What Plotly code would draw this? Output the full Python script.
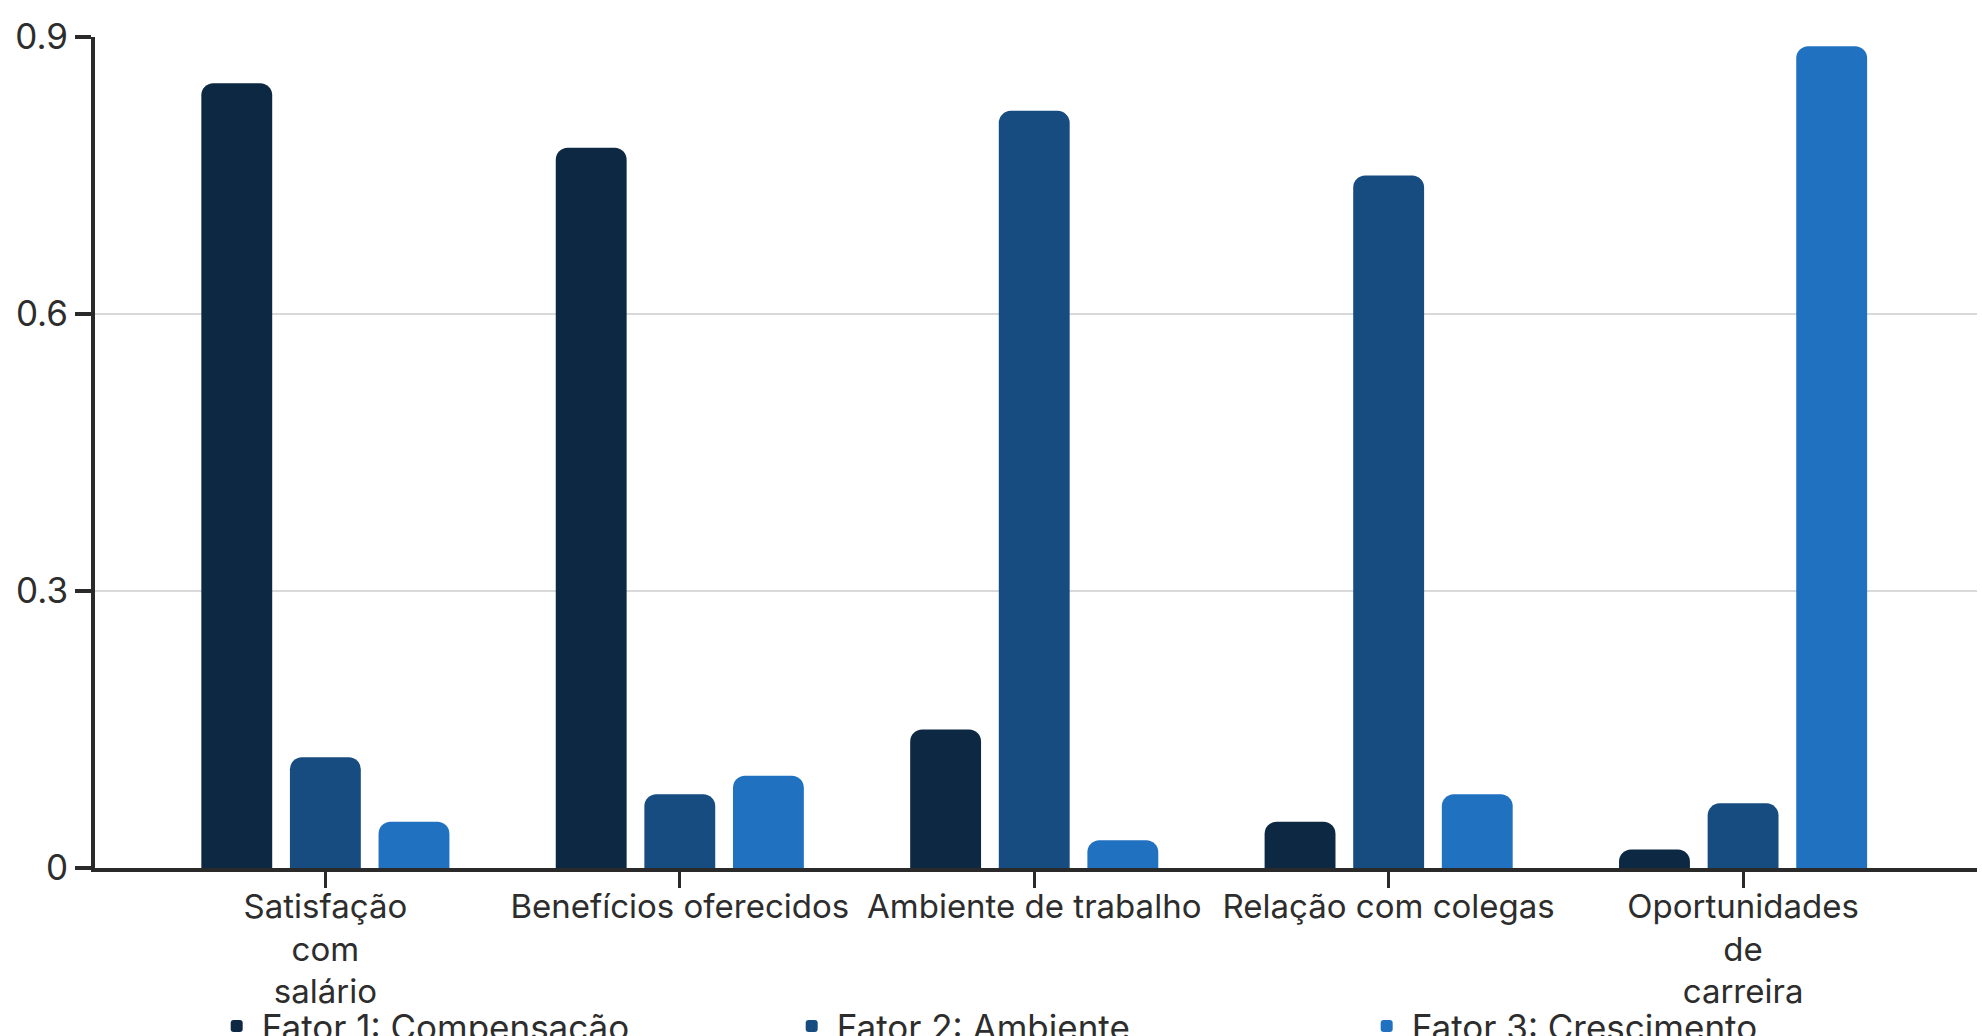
import plotly.graph_objects as go

categories = [
    "Satisfação<br>com<br>salário",
    "Benefícios oferecidos",
    "Ambiente de trabalho",
    "Relação com colegas",
    "Oportunidades<br>de<br>carreira",
]
fator1 = [0.85, 0.78, 0.15, 0.05, 0.02]
fator2 = [0.12, 0.08, 0.82, 0.75, 0.07]
fator3 = [0.05, 0.10, 0.03, 0.08, 0.89]
series_names = ["Fator 1: Compensação", "Fator 2: Ambiente", "Fator 3: Crescimento"]
colors = ["#0D2842", "#174C80", "#2171C1"]
y_ticks = [0, 0.3, 0.6, 0.9]

FONT = "Inter, Roboto, sans-serif"
TXT = "#2d2d2d"
FS = 35

fig = go.Figure()
for name, vals, col in zip(series_names, [fator1, fator2, fator3], colors):
    fig.add_trace(go.Bar(
        x=categories, y=vals, name=name,
        marker=dict(color=col, line=dict(width=0)),
        hoverinfo="x+y+name",
    ))

fig.update_layout(
    width=1982, height=1036,
    margin=dict(l=95, r=5, t=37, b=168, autoexpand=False),
    paper_bgcolor="white", plot_bgcolor="white",
    barmode="group", bargap=0.25, bargroupgap=0.2, barcornerradius=12,
    font=dict(family=FONT, size=FS, color=TXT),
    showlegend=True,
    legend=dict(
        orientation="h", x=0.062, xanchor="left", y=-0.155, yanchor="top",
        font=dict(family=FONT, size=FS, color=TXT),
        entrywidth=520, entrywidthmode="pixels", itemwidth=40,
        bgcolor="rgba(0,0,0,0)",
    ),
)
fig.update_xaxes(
    range=[-0.65, 4.66],
    showline=True, linecolor="#2a2a2a", linewidth=4,
    ticks="outside", ticklen=16, tickwidth=3, tickcolor="#2a2a2a",
    ticklabelstandoff=-10, tickangle=0,
    showgrid=False, zeroline=False,
    tickfont=dict(family=FONT, size=33, color=TXT),
)
fig.update_yaxes(
    range=[0, 0.9], tickvals=y_ticks, ticktext=["0", "0.3", "0.6", "0.9"],
    showline=True, linecolor="#2a2a2a", linewidth=4,
    ticks="outside", ticklen=16, tickwidth=4, tickcolor="#2a2a2a",
    showgrid=True, gridcolor="#d9d9d9", gridwidth=2,
    zeroline=False,
    tickfont=dict(family=FONT, size=FS, color=TXT),
)

fig.write_html("out.html")
